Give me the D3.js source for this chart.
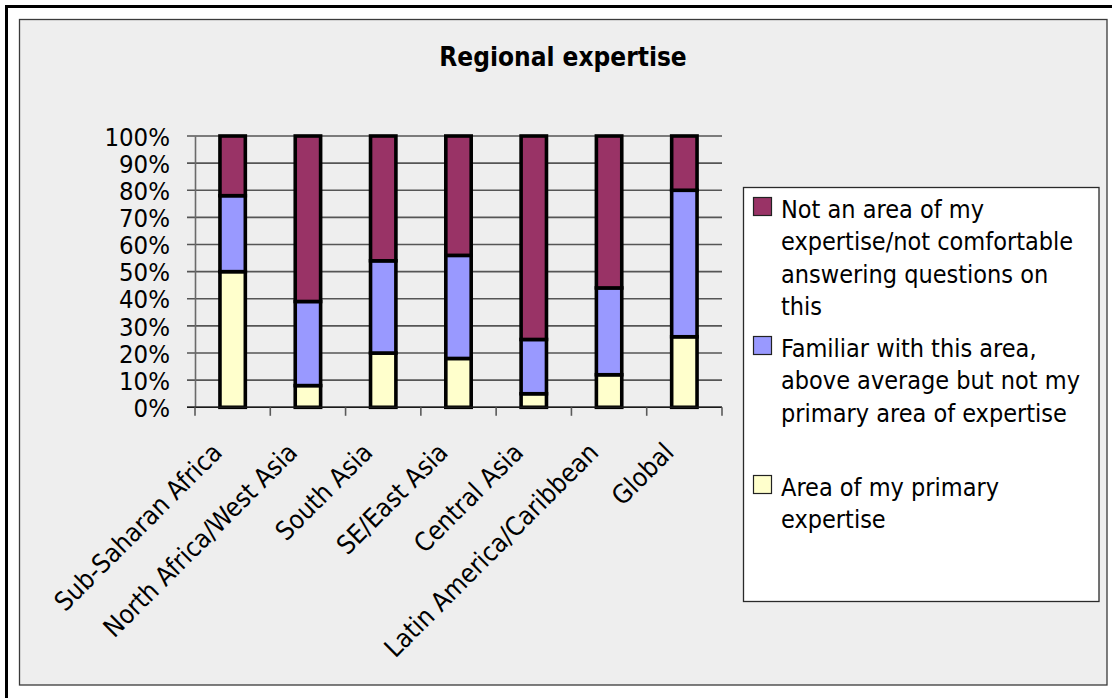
<!DOCTYPE html>
<html>
<head>
<meta charset="utf-8">
<script src="https://cdn.jsdelivr.net/npm/d3@7"></script>
<style>
  html, body { margin: 0; padding: 0; background: #ffffff; }
  svg { display: block; }
  text { font-family: "DejaVu Sans Condensed", "DejaVu Sans", sans-serif; fill: #000; }
</style>
</head>
<body>
<svg id="chart" width="1112" height="698"></svg>
<script>
// Survey: self-rated regional expertise, share of respondents (%)
const categories = [
  "Sub-Saharan Africa",
  "North Africa/West Asia",
  "South Asia",
  "SE/East Asia",
  "Central Asia",
  "Latin America/Caribbean",
  "Global"
];
const primaryExpertise = [50, 8, 20, 18, 5, 12, 26];
const familiarArea     = [28, 31, 34, 38, 20, 32, 54];
const notMyArea        = [22, 61, 46, 44, 75, 56, 20];

const yTickValues = [0, 10, 20, 30, 40, 50, 60, 70, 80, 90, 100];

const legendLines = [
  ["Not an area of my", "expertise/not comfortable", "answering questions on", "this"],
  ["Familiar with this area,", "above average but not my", "primary area of expertise"],
  ["Area of my primary", "expertise"]
];
const seriesColors = ["#FFFFCC", "#9999FF", "#993366"];

const svg = d3.select("#chart");

// page frame and chart area
svg.append("rect")
  .attr("x", 6.5).attr("y", 6.5).attr("width", 1130).attr("height", 720)
  .attr("fill", "#ffffff").attr("stroke", "#000").attr("stroke-width", 3);
svg.append("rect")
  .attr("x", 19.5).attr("y", 19.5).attr("width", 1087.5).attr("height", 665.5)
  .attr("fill", "#EEEEEE").attr("stroke", "#3a3a3a").attr("stroke-width", 1.3);

svg.append("text")
  .attr("x", 563).attr("y", 65.5)
  .attr("text-anchor", "middle")
  .attr("font-weight", "bold")
  .attr("font-size", 26)
  .text("Regional expertise");

// plot geometry
const plot = { left: 195, right: 722, top: 136, bottom: 407.3 };

const x = d3.scaleBand()
  .domain(categories)
  .range([plot.left, plot.right])
  .padding(0);
const y = d3.scaleLinear()
  .domain([0, 100])
  .range([plot.bottom, plot.top]);

const rows = categories.map((c, i) => ({
  category: c,
  primary: primaryExpertise[i],
  familiar: familiarArea[i],
  notArea: notMyArea[i]
}));
const stacked = d3.stack().keys(["primary", "familiar", "notArea"])(rows);

// horizontal gridlines with outward ticks
const grid = svg.append("g");
grid.selectAll("line")
  .data(yTickValues)
  .join("line")
  .attr("x1", plot.left - 8).attr("x2", plot.right)
  .attr("y1", d => y(d)).attr("y2", d => y(d))
  .attr("stroke", "#555555").attr("stroke-width", 1.6);

// y axis
const yAxis = d3.axisLeft(y)
  .tickValues(yTickValues)
  .tickFormat(d => d + "%")
  .tickSize(0)
  .tickPadding(25);
const yg = svg.append("g")
  .attr("transform", `translate(${plot.left},0)`)
  .call(yAxis);
yg.select(".domain").attr("stroke", "#6a6a6a").attr("stroke-width", 1.6);
yg.selectAll("text")
  .attr("font-size", 25.5)
  .attr("font-family", "'DejaVu Sans Condensed', 'DejaVu Sans', sans-serif")
  .attr("dy", "0.36em");

// bars
const barW = x.bandwidth() * 0.337;
const layers = svg.append("g").selectAll("g")
  .data(stacked)
  .join("g")
  .attr("fill", (d, i) => seriesColors[i]);
layers.selectAll("rect")
  .data(d => d)
  .join("rect")
  .attr("x", d => x(d.data.category) + x.bandwidth() / 2 - barW / 2)
  .attr("width", barW)
  .attr("y", d => y(d[1]))
  .attr("height", d => y(d[0]) - y(d[1]))
  .attr("stroke", "#000")
  .attr("stroke-width", 3.6);

// x axis with tick marks between categories
const xAxisG = svg.append("g");
xAxisG.append("line")
  .attr("x1", plot.left - 8).attr("x2", plot.right)
  .attr("y1", plot.bottom).attr("y2", plot.bottom)
  .attr("stroke", "#1a1a1a").attr("stroke-width", 1.6);
const boundaries = categories.map(c => x(c)).concat([plot.right]);
xAxisG.selectAll("line.tick")
  .data(boundaries)
  .join("line")
  .attr("class", "tick")
  .attr("x1", d => d).attr("x2", d => d)
  .attr("y1", plot.bottom).attr("y2", plot.bottom + 8.5)
  .attr("stroke", "#5a5a5a").attr("stroke-width", 1.6);

svg.append("g").selectAll("text")
  .data(categories)
  .join("text")
  .attr("transform", d => `translate(${x(d) + x.bandwidth() / 2 - 9},454) rotate(-45)`)
  .attr("text-anchor", "end")
  .attr("font-size", 26)
  .text(d => d);

// legend
const legend = svg.append("g");
legend.append("rect")
  .attr("x", 743.5).attr("y", 187.5).attr("width", 355.5).attr("height", 414)
  .attr("fill", "#ffffff").attr("stroke", "#2a2a2a").attr("stroke-width", 1.3);

const legendEntries = [
  { color: seriesColors[2], lines: legendLines[0], top: 197.5 },
  { color: seriesColors[1], lines: legendLines[1], top: 336.5 },
  { color: seriesColors[0], lines: legendLines[2], top: 475.5 }
];
const entry = legend.selectAll("g.entry")
  .data(legendEntries)
  .join("g")
  .attr("class", "entry");
entry.append("rect")
  .attr("x", 753.5).attr("y", d => d.top)
  .attr("width", 18).attr("height", 18)
  .attr("fill", d => d.color)
  .attr("stroke", "#222").attr("stroke-width", 1.2);
entry.append("text")
  .attr("font-size", 25)
  .selectAll("tspan")
  .data(d => d.lines.map((t, j) => ({ t, j, top: d.top })))
  .join("tspan")
  .attr("x", 781)
  .attr("y", d => d.top + 20 + d.j * 32.6)
  .text(d => d.t);
</script>
</body>
</html>
